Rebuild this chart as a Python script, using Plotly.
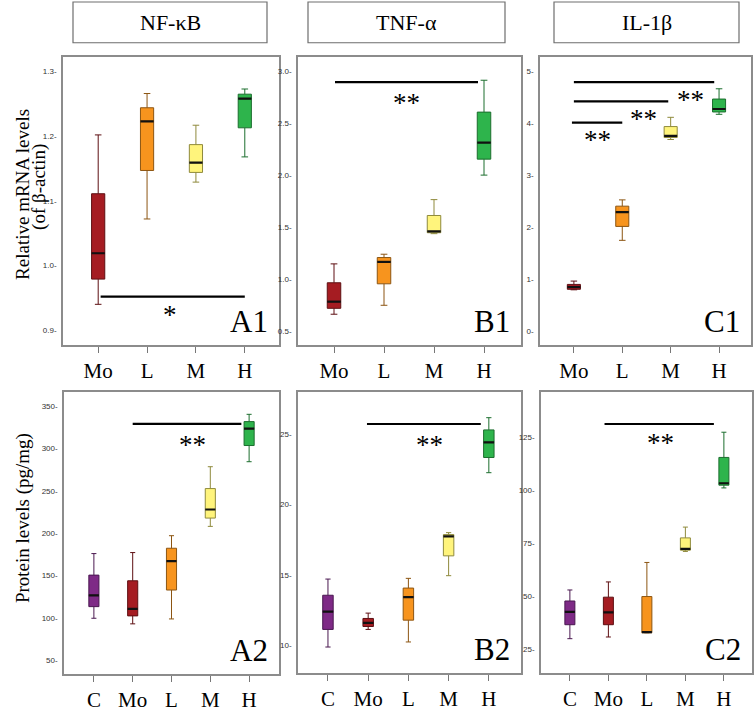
import plotly.graph_objects as go

# ---------------- data ----------------
groups_top = ["Mo", "L", "M", "H"]
groups_bot = ["C", "Mo", "L", "M", "H"]
genes = ["NF-κB", "TNF-α", "IL-1β"]

fill_colors = {"C": "#7E2A86", "Mo": "#A51C22", "L": "#F7941E", "M": "#FFF47C", "H": "#2EB44C"}
edge_colors = {"C": "#4A1850", "Mo": "#5E0F12", "L": "#8C5512", "M": "#8F8A3C", "H": "#1C6E2E"}

# A1: NF-kB mRNA
a1_low = [0.940, 1.072, 1.129, 1.168]
a1_q1 = [0.979, 1.147, 1.144, 1.213]
a1_med = [1.019, 1.223, 1.159, 1.258]
a1_q3 = [1.111, 1.244, 1.187, 1.265]
a1_high = [1.202, 1.266, 1.217, 1.273]

# B1: TNF-a mRNA
b1_low = [0.660, 0.746, 1.436, 2.000]
b1_q1 = [0.717, 0.953, 1.445, 2.154]
b1_med = [0.781, 1.164, 1.458, 2.314]
b1_q3 = [0.963, 1.206, 1.611, 2.607]
b1_high = [1.145, 1.238, 1.764, 2.914]

# C1: IL-1b mRNA
c1_low = [0.79, 1.743, 3.685, 4.170]
c1_q1 = [0.80, 2.011, 3.723, 4.215]
c1_med = [0.843, 2.286, 3.755, 4.272]
c1_q3 = [0.894, 2.401, 3.934, 4.464]
c1_high = [0.958, 2.522, 4.112, 4.662]

# A2: NF-kB protein
a2_low = [99.6, 93.0, 98.8, 208.0, 284.3]
a2_q1 = [113.3, 102.4, 132.9, 217.8, 303.4]
a2_med = [126.6, 110.6, 166.9, 227.9, 323.4]
a2_q3 = [150.5, 143.8, 182.2, 252.6, 331.6]
a2_high = [175.9, 177.1, 197.0, 278.4, 340.2]

# B2: TNF-a protein
b2_low = [9.88, 11.13, 10.24, 14.95, 22.27]
b2_q1 = [11.13, 11.34, 11.79, 16.36, 23.35]
b2_med = [12.40, 11.60, 13.42, 17.75, 24.43]
b2_q3 = [13.56, 11.91, 14.07, 17.87, 25.31]
b2_high = [14.71, 12.29, 14.76, 18.01, 26.18]

# C2: IL-1b protein
c2_low = [30.0, 30.8, 32.8, 71.2, 101.2]
c2_q1 = [36.6, 36.6, 32.8, 71.8, 102.5]
c2_med = [42.7, 42.4, 33.1, 72.4, 103.4]
c2_q3 = [47.8, 49.6, 49.9, 77.6, 115.6]
c2_high = [53.0, 56.8, 66.0, 82.7, 127.5]

# significance bars: (x_start, x_end, y)
a1_bars = [(0.05, 3.0, 0.952)]
b1_bars = [(0.02, 2.88, 2.895)]
c1_bars = [(0.0, 2.9, 4.789), (0.0, 1.95, 4.419), (-0.04, 1.0, 4.010)]
a2_bars = [(1.0, 3.8, 328.9)]
b2_bars = [(0.97, 3.8, 25.73)]
c2_bars = [(0.9, 3.74, 131.4)]
# significance marks: (x, y, text)
a1_marks = [(1.47, 0.929, "*")]
b1_marks = [(1.44, 2.735, "**")]
c1_marks = [(0.48, 3.755, "**"), (1.43, 4.15, "**"), (2.42, 4.52, "**")]
a2_marks = [(2.55, 308.9, "**")]
b2_marks = [(2.53, 24.53, "**")]
c2_marks = [(2.36, 124.2, "**")]

a1_ticks = [0.9, 1.0, 1.1, 1.2, 1.3]
b1_ticks = [0.5, 1.0, 1.5, 2.0, 2.5, 3.0]
c1_ticks = [0, 1, 2, 3, 4, 5]
a2_ticks = [50, 100, 150, 200, 250, 300, 350]
b2_ticks = [10, 15, 20, 25]
c2_ticks = [25, 50, 75, 100, 125]

# ---------------- layout geometry (pixels) ----------------
W, H = 756, 712
SERIF = "Liberation Serif, Times New Roman, serif"
NARROW = "Liberation Sans Narrow, Liberation Sans, Arial, sans-serif"


def fx(p):
    return p / W


def fy(p):
    return 1 - p / H


panels = [
    # name, groups, stats, ticks, fmt, frame px (x0,x1,y0,y1), yrange, xrange, bars, marks
    ("A1", groups_top, (a1_low, a1_q1, a1_med, a1_q3, a1_high), a1_ticks, ".1f",
     (63, 279, 57, 347), [0.877, 1.323], [-0.72, 3.70], a1_bars, a1_marks),
    ("B1", groups_top, (b1_low, b1_q1, b1_med, b1_q3, b1_high), b1_ticks, ".1f",
     (298, 521, 57, 347), [0.363, 3.141], [-0.72, 3.74], b1_bars, b1_marks),
    ("C1", groups_top, (c1_low, c1_q1, c1_med, c1_q3, c1_high), c1_ticks, "d",
     (540, 751, 57, 347), [-0.274, 5.28], [-0.70, 3.66], c1_bars, c1_marks),
    ("A2", groups_bot, (a2_low, a2_q1, a2_med, a2_q3, a2_high), a2_ticks, "d",
     (64, 279, 394, 678), [33.6, 366.8], [-0.77, 4.77], a2_bars, a2_marks),
    ("B2", groups_bot, (b2_low, b2_q1, b2_med, b2_q3, b2_high), b2_ticks, "d",
     (298, 521, 394, 677), [8.02, 28.02], [-0.745, 4.80], b2_bars, b2_marks),
    ("C2", groups_bot, (c2_low, c2_q1, c2_med, c2_q3, c2_high), c2_ticks, "d",
     (541, 752, 394, 677), [13.7, 146.6], [-0.75, 4.73], c2_bars, c2_marks),
]

fig = go.Figure()
shapes = []
annotations = []
layout = {}

for k, (name, groups, stats, ticks, fmt, frame, yr, xr, bars, marks) in enumerate(panels, start=1):
    xa = "x" if k == 1 else f"x{k}"
    ya = "y" if k == 1 else f"y{k}"
    low, q1, med, q3, high = stats
    bw = 0.27 if len(groups) == 4 else 0.26
    for i, g in enumerate(groups):
        fig.add_trace(go.Box(
            x=[i], q1=[q1[i]], median=[med[i]], q3=[q3[i]],
            lowerfence=[low[i]], upperfence=[high[i]],
            width=bw, whiskerwidth=0.5,
            fillcolor=fill_colors[g],
            line=dict(color=edge_colors[g], width=1),
            boxpoints=False, showlegend=False, hoverinfo="skip",
            xaxis=xa, yaxis=ya,
        ))
        shapes.append(dict(type="line", xref=xa, yref=ya,
                           x0=i - bw / 2, x1=i + bw / 2, y0=med[i], y1=med[i],
                           line=dict(color="#111111", width=2.2)))
    for (x0, x1, yv) in bars:
        shapes.append(dict(type="line", xref=xa, yref=ya, x0=x0, x1=x1, y0=yv, y1=yv,
                           line=dict(color="black", width=2.2)))
    for (xm, ym, t) in marks:
        annotations.append(dict(x=xm, y=ym, xref=xa, yref=ya, text=t, showarrow=False,
                                font=dict(family=SERIF, size=27, color="black"),
                                xanchor="center", yanchor="middle", yshift=-4))
    px0, px1, py0, py1 = frame
    ticktext = [format(t, fmt) for t in ticks]
    layout["xaxis" if k == 1 else f"xaxis{k}"] = dict(
        domain=[fx(px0), fx(px1)], anchor=ya, range=xr,
        tickvals=list(range(len(groups))), ticktext=groups,
        ticks="outside", ticklen=6, tickcolor="#777777", tickwidth=1,
        showline=True, mirror=True, linecolor="#8C8C8C", linewidth=1.5,
        showgrid=False, zeroline=False,
        tickfont=dict(family=SERIF, size=21, color="black"),
    )
    layout["yaxis" if k == 1 else f"yaxis{k}"] = dict(
        domain=[fy(py1), fy(py0)], anchor=xa, range=yr,
        tickvals=ticks, ticktext=[t + "‐" for t in ticktext],
        ticks="", ticklabelstandoff=3,
        showline=True, mirror=True, linecolor="#8C8C8C", linewidth=1.5,
        showgrid=False, zeroline=False,
        tickfont=dict(family=NARROW, size=8, color="#333333"),
    )
    # panel label
    annotations.append(dict(x=fx(px1 - 9), y=fy(py1 - 24), xref="paper", yref="paper",
                            text=name, showarrow=False, xanchor="right", yanchor="middle",
                            font=dict(family=SERIF, size=31, color="black")))

# header boxes
header_px = [(73, 267), (308, 505), (554, 739)]
for g, (hx0, hx1) in zip(genes, header_px):
    shapes.append(dict(type="rect", xref="paper", yref="paper",
                       x0=fx(hx0), x1=fx(hx1), y0=fy(43), y1=fy(2),
                       line=dict(color="#6E6E6E", width=1.2), fillcolor="white"))
    annotations.append(dict(x=fx((hx0 + hx1) / 2), y=fy(22.5), xref="paper", yref="paper",
                            text=g, showarrow=False, xanchor="center", yanchor="middle",
                            font=dict(family=SERIF, size=22, color="black")))

# y-axis titles
annotations.append(dict(x=fx(23), y=fy(196), xref="paper", yref="paper",
                        text="Relative mRNA levels", showarrow=False,
                        textangle=-90, xanchor="center", yanchor="middle",
                        font=dict(family=SERIF, size=19, color="black")))
annotations.append(dict(x=fx(39), y=fy(188), xref="paper", yref="paper",
                        text="(of β-actin)", showarrow=False,
                        textangle=-90, xanchor="center", yanchor="middle",
                        font=dict(family=SERIF, size=19, color="black")))
annotations.append(dict(x=fx(23), y=fy(521), xref="paper", yref="paper",
                        text="Protein levels (pg/mg)", showarrow=False,
                        textangle=-90, xanchor="center", yanchor="middle",
                        font=dict(family=SERIF, size=19, color="black")))

fig.update_layout(
    width=W, height=H, margin=dict(l=0, r=0, t=0, b=0),
    paper_bgcolor="white", plot_bgcolor="white",
    shapes=shapes, annotations=annotations, showlegend=False,
    **layout,
)

fig.write_html("out.html", config={"displayModeBar": False},
               post_script="document.body.style.margin='0';document.body.style.overflow='hidden';")
